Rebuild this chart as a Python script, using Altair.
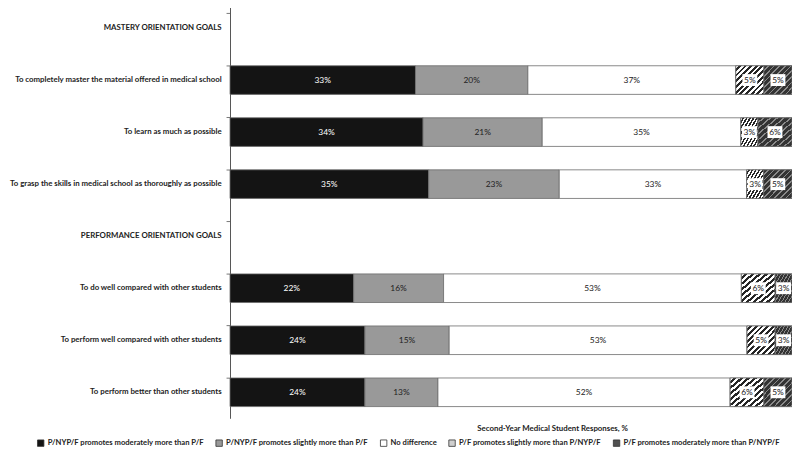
import altair as alt
import pandas as pd

# ---- data ----
rows = [
    "MASTERY ORIENTATION GOALS",
    "To completely master the material offered in medical school",
    "To learn as much as possible",
    "To grasp the skills in medical school as thoroughly as possible",
    "PERFORMANCE ORIENTATION GOALS",
    "To do well compared with other students",
    "To perform well compared with other students",
    "To perform better than other students",
]
items = [rows[1], rows[2], rows[3], rows[5], rows[6], rows[7]]
categories = [
    "P/NYP/F promotes moderately more than P/F",
    "P/NYP/F promotes slightly more than P/F",
    "No difference",
    "P/F promotes slightly more than P/NYP/F",
    "P/F promotes moderately more than P/NYP/F",
]
mod_pnypf = [33, 34, 35, 22, 24, 24]
sl_pnypf = [20, 21, 23, 16, 15, 13]
no_diff = [37, 35, 33, 53, 53, 52]
sl_pf = [5, 3, 3, 6, 5, 6]
mod_pf = [5, 6, 5, 3, 3, 5]

series = [mod_pnypf, sl_pnypf, no_diff, sl_pf, mod_pf]
recs = []
for ci, (cat, vals) in enumerate(zip(categories, series)):
    for item, v in zip(items, vals):
        recs.append({"item": item, "cat": cat, "order": ci, "value": v, "label": f"{v}%"})
df = pd.DataFrame(recs)

FONT = "Lato"
FS = 7.9

def stripes(c1, c2, n, frac):
    stops = []
    for i in range(n):
        a = i / n
        b = (i + frac) / n
        e = (i + 1) / n
        stops += [{"offset": a, "color": c1}, {"offset": b, "color": c1},
                  {"offset": b, "color": c2}, {"offset": e, "color": c2}]
    return {"gradient": "linear", "x1": 0, "y1": 0, "x2": 1, "y2": 1, "stops": stops}

grad_light = stripes("#ffffff", "#262626", 10, 0.5)
grad_dark = stripes("#333333", "#8a8a8a", 10, 0.7)

colors = ["#141414", "#999999", "#ffffff", "#cfcfcf", "#505050"]

base = alt.Chart(df).transform_stack(
    stack="value", groupby=["item"], as_=["x0", "x1"],
    sort=[alt.SortField("order", order="ascending")], offset="normalize"
).transform_calculate(mid="(datum.x0 + datum.x1) / 2")

yenc = alt.Y("item:N", sort=rows, scale=alt.Scale(domain=rows, paddingInner=0.45, paddingOuter=0.225),
             axis=alt.Axis(title=None, labelFont=FONT, labelFontWeight="bold", labelFontSize=FS,
                           labelColor="#222222", labelLimit=400, labelPadding=5, tickSize=4,
                           tickColor="#777777", domainColor="#555555", bandPosition=0))

xenc = alt.X("x0:Q", scale=alt.Scale(domain=[0, 1], nice=False),
             axis=alt.Axis(title="Second-Year Medical Student Responses, %", titleFont=FONT,
                           titleFontWeight="bold", titleFontSize=FS, titleColor="#222222",
                           titleX=325, titleAlign="center", titleBaseline="middle", titleY=10,
                           domain=False, ticks=False, labels=False, grid=False))

bars = base.mark_bar(stroke="#6b6b6b", strokeWidth=0.8).encode(
    y=yenc,
    x=xenc,
    x2="x1:Q",
    fill=alt.Fill("cat:N", scale=alt.Scale(domain=categories, range=colors),
                  legend=alt.Legend(title=None, orient="none", legendX=-195, legendY=441,
                                    direction="horizontal", columns=5,
                                    labelFont=FONT, labelFontWeight="bold", labelFontSize=7.7,
                                    labelColor="#222222", labelLimit=400, symbolType="square",
                                    symbolSize=42, symbolStrokeColor="#333333", symbolStrokeWidth=0.8,
                                    labelOffset=3, columnPadding=10, padding=0)),
)

hatched = base.transform_filter(alt.datum.order >= 3).mark_bar(stroke="#6b6b6b", strokeWidth=0.8).encode(
    y=alt.Y("item:N", sort=rows),
    x=alt.X("x0:Q"),
    x2="x1:Q",
    fill=alt.condition(alt.datum.order == 3, alt.value(grad_light), alt.value(grad_dark)),
)

boxes = base.transform_filter(alt.datum.order >= 3).mark_point(
    shape="M-1.25,-1L1.25,-1L1.25,1L-1.25,1Z", size=144, filled=True, fill="#ffffff", opacity=1
).encode(y=alt.Y("item:N", sort=rows), x=alt.X("mid:Q"))

texts = base.mark_text(font=FONT, fontSize=8.5).encode(
    y=alt.Y("item:N", sort=rows), x=alt.X("mid:Q"), text="label:N",
    color=alt.condition(alt.datum.order == 0, alt.value("#ffffff"), alt.value("#222222")),
)

chart = alt.layer(bars, hatched, boxes, texts).properties(
    width=567, height=420,
    autosize=alt.AutoSizeParams(type="none"),
    padding={"left": 224, "top": -8, "right": 0, "bottom": 28},
).configure_view(stroke=None)

chart.save("out.html", embed_options={"renderer": "svg", "actions": False})
